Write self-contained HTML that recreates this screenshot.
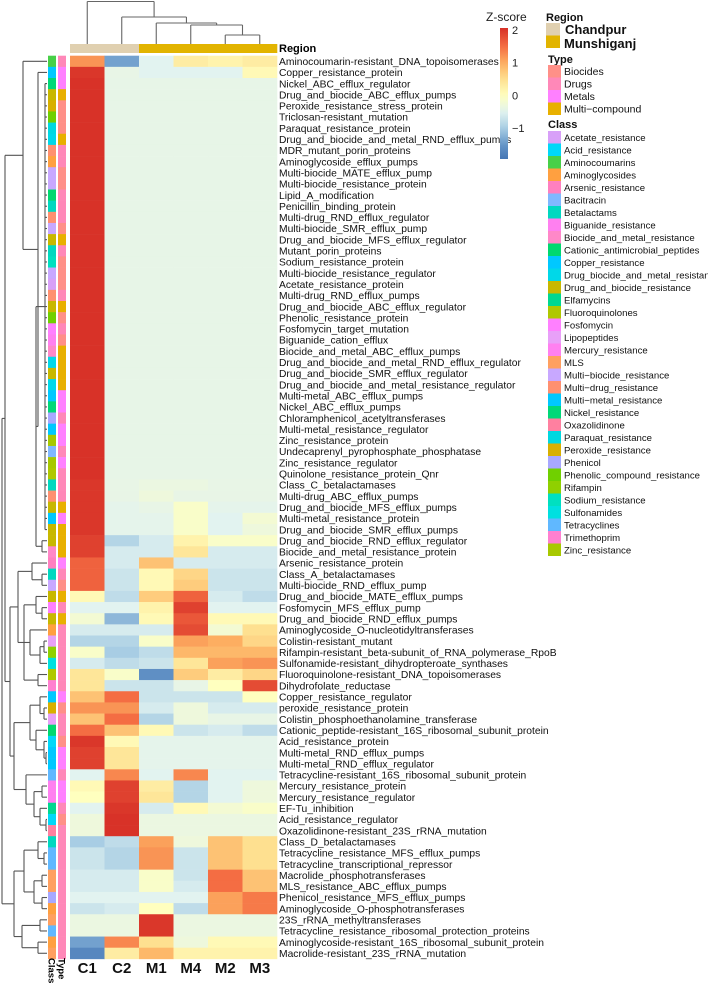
<!DOCTYPE html>
<html><head><meta charset="utf-8">
<style>
html,body{margin:0;padding:0;background:#fff;}
svg{display:block;font-family:"Liberation Sans",Arial,sans-serif;}
</style></head>
<body>
<svg id="chart" width="708" height="986" viewBox="0 0 708 986" xmlns="http://www.w3.org/2000/svg">
  <g id="topDendro"></g>
  <g id="leftDendro"></g>
  <g id="regionBar"></g>
  <g id="annot"></g>
  <g id="cells"></g>
  <g id="rowLabelsG"></g>
  <g id="colLabelsG"></g>
  <text x="279" y="52" font-size="11" font-weight="bold">Region</text>
  <text transform="translate(48.5,958) rotate(90)" font-size="9.5" font-weight="bold">Class</text>
  <text transform="translate(58.5,958) rotate(90)" font-size="9.5" font-weight="bold">Type</text>
  <g id="colorbar"></g>
  <g id="legend"></g>
</svg>
<script>
const rowLabels = ["Aminocoumarin-resistant_DNA_topoisomerases","Copper_resistance_protein","Nickel_ABC_efflux_regulator","Drug_and_biocide_ABC_efflux_pumps","Peroxide_resistance_stress_protein","Triclosan-resistant_mutation","Paraquat_resistance_protein","Drug_and_biocide_and_metal_RND_efflux_pumps","MDR_mutant_porin_proteins","Aminoglycoside_efflux_pumps","Multi-biocide_MATE_efflux_pump","Multi-biocide_resistance_protein","Lipid_A_modification","Penicillin_binding_protein","Multi-drug_RND_efflux_regulator","Multi-biocide_SMR_efflux_pump","Drug_and_biocide_MFS_efflux_regulator","Mutant_porin_proteins","Sodium_resistance_protein","Multi-biocide_resistance_regulator","Acetate_resistance_protein","Multi-drug_RND_efflux_pumps","Drug_and_biocide_ABC_efflux_regulator","Phenolic_resistance_protein","Fosfomycin_target_mutation","Biguanide_cation_efflux","Biocide_and_metal_ABC_efflux_pumps","Drug_and_biocide_and_metal_RND_efflux_regulator","Drug_and_biocide_SMR_efflux_regulator","Drug_and_biocide_and_metal_resistance_regulator","Multi-metal_ABC_efflux_pumps","Nickel_ABC_efflux_pumps","Chloramphenicol_acetyltransferases","Multi-metal_resistance_regulator","Zinc_resistance_protein","Undecaprenyl_pyrophosphate_phosphatase","Zinc_resistance_regulator","Quinolone_resistance_protein_Qnr","Class_C_betalactamases","Multi-drug_ABC_efflux_pumps","Drug_and_biocide_MFS_efflux_pumps","Multi-metal_resistance_protein","Drug_and_biocide_SMR_efflux_pumps","Drug_and_biocide_RND_efflux_regulator","Biocide_and_metal_resistance_protein","Arsenic_resistance_protein","Class_A_betalactamases","Multi-biocide_RND_efflux_pump","Drug_and_biocide_MATE_efflux_pumps","Fosfomycin_MFS_efflux_pump","Drug_and_biocide_RND_efflux_pumps","Aminoglycoside_O-nucleotidyltransferases","Colistin-resistant_mutant","Rifampin-resistant_beta-subunit_of_RNA_polymerase_RpoB","Sulfonamide-resistant_dihydropteroate_synthases","Fluoroquinolone-resistant_DNA_topoisomerases","Dihydrofolate_reductase","Copper_resistance_regulator","peroxide_resistance_protein","Colistin_phosphoethanolamine_transferase","Cationic_peptide-resistant_16S_ribosomal_subunit_protein","Acid_resistance_protein","Multi-metal_RND_efflux_pumps","Multi-metal_RND_efflux_regulator","Tetracycline-resistant_16S_ribosomal_subunit_protein","Mercury_resistance_protein","Mercury_resistance_regulator","EF-Tu_inhibition","Acid_resistance_regulator","Oxazolidinone-resistant_23S_rRNA_mutation","Class_D_betalactamases","Tetracycline_resistance_MFS_efflux_pumps","Tetracycline_transcriptional_repressor","Macrolide_phosphotransferases","MLS_resistance_ABC_efflux_pumps","Phenicol_resistance_MFS_efflux_pumps","Aminoglycoside_O-phosphotransferases","23S_rRNA_methyltransferases","Tetracycline_resistance_ribosomal_protection_proteins","Aminoglycoside-resistant_16S_ribosomal_subunit_protein","Macrolide-resistant_23S_rRNA_mutation"];
const colLabels = ["C1","C2","M1","M4","M2","M3"];
const colRegion = ["Chandpur","Chandpur","Munshiganj","Munshiganj","Munshiganj","Munshiganj"];
const valsC1 = [1.2,2.0,2.04,2.04,2.04,2.04,2.04,2.04,2.04,2.04,2.04,2.04,2.04,2.04,2.04,2.04,2.04,2.04,2.04,2.04,2.04,2.04,2.04,2.04,2.04,2.04,2.04,2.04,2.04,2.04,2.04,2.04,2.04,2.04,2.04,2.04,2.04,2.04,2.0,2.0,2.0,2.0,2.0,1.9,1.9,1.6,1.6,1.6,0.1,-0.5,-0.2,-0.6,-0.9,-0.1,-0.6,0.4,0.4,0.8,1.2,0.8,1.5,2.0,1.9,1.9,-0.5,0.1,0.0,-0.5,-0.3,-0.3,-1.0,-0.7,-0.7,-0.6,-0.6,-0.5,-0.7,-0.35,-0.35,-1.4,-1.7];
const valsC2 = [-1.4,-0.4,-0.41,-0.41,-0.41,-0.41,-0.41,-0.41,-0.41,-0.41,-0.41,-0.41,-0.41,-0.41,-0.41,-0.41,-0.41,-0.41,-0.41,-0.41,-0.41,-0.41,-0.41,-0.41,-0.41,-0.41,-0.41,-0.41,-0.41,-0.41,-0.41,-0.41,-0.41,-0.41,-0.41,-0.41,-0.41,-0.41,-0.4,-0.4,-0.45,-0.45,-0.45,-0.9,-0.6,-0.6,-0.7,-0.7,-0.8,-0.5,-1.2,-0.6,-0.9,-1.0,-0.8,-0.1,-0.7,1.5,1.2,1.5,0.8,0.1,0.4,0.4,1.3,1.9,1.9,2.0,2.04,2.04,-0.8,-0.9,-0.9,-0.6,-0.6,-0.5,-0.6,-0.35,-0.35,1.3,0.3];
const valsM1 = [-0.5,-0.5,-0.41,-0.41,-0.41,-0.41,-0.41,-0.41,-0.41,-0.41,-0.41,-0.41,-0.41,-0.41,-0.41,-0.41,-0.41,-0.41,-0.41,-0.41,-0.41,-0.41,-0.41,-0.41,-0.41,-0.41,-0.41,-0.41,-0.41,-0.41,-0.41,-0.41,-0.41,-0.41,-0.41,-0.41,-0.41,-0.41,-0.35,-0.3,-0.4,-0.45,-0.45,-0.6,-0.6,0.8,0.1,0.1,0.7,0.2,0.1,-0.6,-0.1,-0.8,-0.7,-1.6,-0.7,-0.7,-0.6,-0.9,0.1,-0.45,-0.45,-0.45,-0.5,0.3,0.4,-0.6,-0.35,-0.35,1.1,1.2,1.2,-0.1,-0.1,-0.5,0.0,2.0,2.0,0.5,0.9];
const valsM4 = [0.3,-0.5,-0.41,-0.41,-0.41,-0.41,-0.41,-0.41,-0.41,-0.41,-0.41,-0.41,-0.41,-0.41,-0.41,-0.41,-0.41,-0.41,-0.41,-0.41,-0.41,-0.41,-0.41,-0.41,-0.41,-0.41,-0.41,-0.41,-0.41,-0.41,-0.41,-0.41,-0.41,-0.41,-0.41,-0.41,-0.41,-0.41,-0.35,-0.4,-0.1,-0.1,-0.1,0.2,0.4,-0.6,0.6,0.7,1.6,1.9,1.7,1.8,1.1,0.9,0.4,0.7,-0.4,-0.7,-0.3,-0.3,-0.7,-0.45,-0.45,-0.45,1.3,-0.9,-0.9,0.1,-0.35,-0.35,-0.3,-0.7,-0.7,-0.7,-0.6,-0.5,-0.8,-0.35,-0.35,-0.3,0.2];
const valsM2 = [0.2,-0.5,-0.41,-0.41,-0.41,-0.41,-0.41,-0.41,-0.41,-0.41,-0.41,-0.41,-0.41,-0.41,-0.41,-0.41,-0.41,-0.41,-0.41,-0.41,-0.41,-0.41,-0.41,-0.41,-0.41,-0.41,-0.41,-0.41,-0.41,-0.41,-0.41,-0.41,-0.41,-0.41,-0.41,-0.41,-0.41,-0.41,-0.4,-0.4,-0.45,-0.5,-0.5,-0.1,-0.6,-0.6,-0.7,-0.7,-0.6,-0.5,0.1,-0.2,1.0,0.9,1.1,0.3,0.0,-0.7,-0.6,-0.4,-0.6,-0.45,-0.45,-0.45,-0.5,-0.5,-0.5,-0.2,-0.35,-0.35,0.8,0.8,0.8,1.5,1.5,1.1,1.1,-0.35,-0.35,0.1,0.2];
const valsM3 = [0.3,0.1,-0.41,-0.41,-0.41,-0.41,-0.41,-0.41,-0.41,-0.41,-0.41,-0.41,-0.41,-0.41,-0.41,-0.41,-0.41,-0.41,-0.41,-0.41,-0.41,-0.41,-0.41,-0.41,-0.41,-0.41,-0.41,-0.41,-0.41,-0.41,-0.41,-0.41,-0.41,-0.41,-0.41,-0.41,-0.41,-0.41,-0.4,-0.4,-0.45,-0.2,-0.3,-0.1,-0.6,-0.6,-0.7,-0.7,-0.8,-0.5,0.1,0.5,0.6,0.9,1.2,0.6,1.8,0.0,-0.6,-0.4,-0.8,-0.45,-0.45,-0.45,-0.5,-0.3,-0.3,-0.1,-0.35,-0.35,0.5,0.5,0.5,0.8,0.8,1.4,1.4,-0.35,-0.35,0.1,0.2];
const colorbarTicks = [2,1,0,-1];
const typeNames = ["Biocides","Drugs","Metals","Multi\u2212compound"];
const typeColors = ["#ff9088","#ff88b8","#ff80ff","#e8b000"];
const classNames = ["Acetate_resistance","Acid_resistance","Aminocoumarins","Aminoglycosides","Arsenic_resistance","Bacitracin","Betalactams","Biguanide_resistance","Biocide_and_metal_resistance","Cationic_antimicrobial_peptides","Copper_resistance","Drug_biocide_and_metal_resistance","Drug_and_biocide_resistance","Elfamycins","Fluoroquinolones","Fosfomycin","Lipopeptides","Mercury_resistance","MLS","Multi\u2212biocide_resistance","Multi\u2212drug_resistance","Multi\u2212metal_resistance","Nickel_resistance","Oxazolidinone","Paraquat_resistance","Peroxide_resistance","Phenicol","Phenolic_compound_resistance","Rifampin","Sodium_resistance","Sulfonamides","Tetracyclines","Trimethoprim","Zinc_resistance"];
const classColors = ["#d8a0f8","#00d8f8","#48d048","#ffa040","#ff80c0","#80b8ff","#00d8c0","#ff80f0","#ff88c8","#00d870","#00c8ff","#00d8e8","#c8b800","#00d890","#b0c800","#ff80ff","#e8a0f8","#ff80f0","#ffa060","#c8a8ff","#ff9070","#00c8ff","#00d878","#ff80a0","#00d8e0","#d8b000","#a8a8ff","#70d000","#90d000","#00e0c0","#00e0e0","#60b8ff","#ff80d0","#a8c800"];
const rowClass = [2,10,22,12,25,27,24,11,20,3,19,19,9,6,20,19,12,6,29,19,0,20,12,27,15,7,8,11,12,11,21,22,26,21,33,5,33,14,6,20,12,21,12,12,8,4,6,19,12,15,12,3,16,28,30,14,32,10,25,16,9,1,21,21,31,17,17,13,1,23,6,31,31,18,18,26,3,18,31,3,18];
const rowType = [1,2,2,3,0,0,0,3,1,1,0,0,1,1,1,0,3,1,0,0,0,1,3,0,1,0,3,3,3,3,2,2,1,2,2,1,2,1,1,1,3,2,3,3,3,2,1,0,3,1,3,1,1,1,1,1,1,2,0,1,1,0,2,2,1,2,2,1,0,1,1,1,1,1,1,1,1,1,1,1,1];

const NS="http://www.w3.org/2000/svg";
function mk(tag,attrs,parent){const e=document.createElementNS(NS,tag);for(const k in attrs)e.setAttribute(k,attrs[k]);parent.appendChild(e);return e;}
const X0=70, CW=34.5, Y0=55.7, RH=11.15;
const xScale = i => X0 + i*CW;
const yScale = r => Y0 + r*RH;
const stops=[[-1.95,[69,117,180]],[-1.5,[102,150,200]],[-1,[168,205,228]],[-0.5,[226,243,240]],[0,[255,255,191]],[0.5,[254,224,144]],[1,[253,174,97]],[1.5,[244,109,67]],[2.06,[215,48,39]]];
function zColor(z){
  if(z<=stops[0][0])return "rgb("+stops[0][1]+")";
  for(let i=1;i<stops.length;i++){if(z<=stops[i][0]){const a=stops[i-1],b=stops[i];const t=(z-a[0])/(b[0]-a[0]);
    return "rgb("+[0,1,2].map(k=>Math.round(a[1][k]+(b[1][k]-a[1][k])*t)).join(",")+")";}}
  return "rgb("+stops[stops.length-1][1]+")";
}
const cols=[valsC1,valsC2,valsM1,valsM4,valsM2,valsM3];
const cellsG=document.getElementById('cells');
cols.forEach((vals,c)=>{vals.forEach((v,r)=>{
  const rc=mk('rect',{x:xScale(c),y:yScale(r),width:CW+0.3,height:RH+0.3,fill:zColor(v)},cellsG);
  
  
});});
const rb=document.getElementById('regionBar');
colRegion.forEach((g,c)=>{const rr=mk('rect',{x:xScale(c),y:44,width:CW+0.3,height:9,fill:g==="Chandpur"?"#e0d0b0":"#e2b400"},rb);
  
  });
const an=document.getElementById('annot');
rowLabels.forEach((l,r)=>{
  const a=mk('rect',{x:48,y:yScale(r),width:8,height:RH+0.3,fill:classColors[rowClass[r]]},an);
  
  
  const b=mk('rect',{x:58,y:yScale(r),width:8,height:RH+0.3,fill:typeColors[rowType[r]]},an);
  
  
});
const rl=document.getElementById('rowLabelsG');
rowLabels.forEach((l,r)=>{const t=mk('text',{x:279,y:yScale(r)+RH/2+3.7,'font-size':'10.3',fill:'#111'},rl);t.textContent=l;
  
  });
const cl=document.getElementById('colLabelsG');
colLabels.forEach((l,c)=>{const t=mk('text',{x:xScale(c)+CW/2,y:973,'font-size':'15','font-weight':'bold','text-anchor':'middle',fill:'#111'},cl);t.textContent=l;
  
  });
const td=document.getElementById('topDendro');
function ln(g,x1,y1,x2,y2,col){const e=mk('line',{x1:x1,y1:y1,x2:x2,y2:y2,stroke:col||'#666','stroke-width':1.1},g);return e;}
const cx=i=>xScale(i)+CW/2;
ln(td,cx(4),35,cx(5),35);ln(td,cx(4),35,cx(4),44);ln(td,cx(5),35,cx(5),44);
const m23=(cx(4)+cx(5))/2;
ln(td,cx(3),25,m23,25);ln(td,cx(3),25,cx(3),44);ln(td,m23,25,m23,35);
const m423=(cx(3)+m23)/2;
ln(td,cx(2),23,m423,23);ln(td,cx(2),23,cx(2),44);ln(td,m423,23,m423,25);
const mM=(cx(2)+m423)/2;
ln(td,cx(1),17,mM,17);ln(td,cx(1),17,cx(1),44);ln(td,mM,17,mM,23);
const mC=(cx(1)+mM)/2;
ln(td,cx(0),1.5,mC,1.5);ln(td,cx(0),1.5,cx(0),44);ln(td,mC,1.5,mC,17);
function rng(a,b){const o=[];for(let i=a;i<=b;i++)o.push(i);return o;}
const tree=[2,
 [5,
  [23,1,[38,2,[36,[45].concat(rng(3,43)),[42,44,45]]]],
  [10,
   [18,[32,46,[42,47,48]],[24,[36,49,[42,50,51]],[30,52,[40,[44,53,54],55]],[38,56,57]]],
   [14,[30,[40,58,[44,59,60]],[36,61,[44,62,[46,63,64]]]],[26,65,[34,[42,66,67],[40,68,[46,69,70]]]]]
  ]
 ],
 [14,[24,[38,71,[44,72,73]],[34,[42,74,75],[42,76,77]]],[22,[40,78,79],[38,80,81]]]
];
const ld=document.getElementById('leftDendro');
function draw(n){
  if(typeof n==='number')return {x:47,y:yScale(n-1)+RH/2};
  const x=n[0];const ch=n.slice(1).map(draw);
  const ys=ch.map(c=>c.y);const y1=Math.min(...ys),y2=Math.max(...ys);
  ch.forEach(c=>ln(ld,x,c.y,c.x,c.y,'#555'));
  ln(ld,x,y1,x,y2,'#555');
  return {x:x,y:(y1+y2)/2};
}
draw(tree);
const cb=document.getElementById('colorbar');
const defs=mk('defs',{},cb);
const lg=mk('linearGradient',{id:'zgrad',x1:0,y1:0,x2:0,y2:1},defs);
const cbTop=28,cbBot=159,zTop=2.06,zBot=-1.94;
for(let i=0;i<=20;i++){const z=zTop-(zTop-zBot)*i/20;mk('stop',{offset:(i/20),'stop-color':zColor(z)},lg);}
const cbr=mk('rect',{x:500,y:cbTop,width:8,height:cbBot-cbTop,fill:'url(#zgrad)'},cb);


const zt=mk('text',{x:486,y:21,'font-size':'12',fill:'#222'},cb);zt.textContent='Z-score';


colorbarTicks.forEach(v=>{const y=cbTop+(zTop-v)/(zTop-zBot)*(cbBot-cbTop);
  const t=mk('text',{x:512,y:y+4,'font-size':'11',fill:'#222'},cb);t.textContent=(v<0?'\u2212':'')+Math.abs(v);
  
  });
const L=document.getElementById('legend');
function txt(x,y,s,size,bold,name){const t=mk('text',{x:x,y:y,'font-size':size,'font-weight':bold?'bold':'normal',fill:'#111'},L);t.textContent=s;return t;}
txt(546,21,'Region',11,true,'legend-region-title');
const r1=mk('rect',{x:546,y:23,width:14,height:12.5,fill:'#e0d0b0'},L);
const r2=mk('rect',{x:546,y:35.5,width:14,height:12.5,fill:'#e2b400'},L);
txt(565,34,'Chandpur',13,true,'legend-entry-chandpur');
txt(564,48,'Munshiganj',13,true,'legend-entry-munshiganj');
txt(548,63,'Type',11,true,'legend-type-title');
typeNames.forEach((n,i)=>{const y=65+i*12.5;
  const s=mk('rect',{x:548,y:y,width:13,height:12.5,fill:typeColors[i]},L);
  
  
  txt(564,y+10,n,10.5,false,'legend-type-entry');});
txt(548,128,'Class',11,true,'legend-class-title');
classNames.forEach((n,i)=>{const y=131+i*12.5;
  const s=mk('rect',{x:548,y:y,width:13,height:12.5,fill:classColors[i]},L);
  
  
  txt(564,y+9.8,n,9.6,false,'legend-class-entry');});
</script>
</body></html>
